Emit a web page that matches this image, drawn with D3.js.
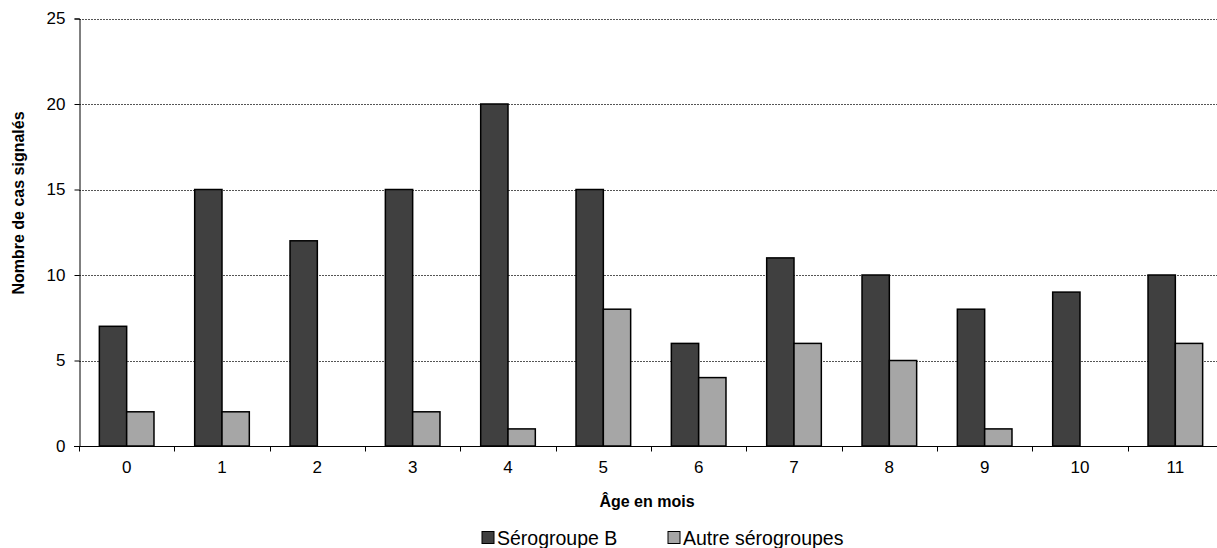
<!DOCTYPE html>
<html lang="fr">
<head>
<meta charset="utf-8"/>
<style>
  body { margin: 0; background: #fff; }
  svg { display: block; font-family: "Liberation Sans", Arial, sans-serif; }
</style>
</head>
<body>
<svg width="1217" height="548"></svg>
<script src="https://d3js.org/d3.v7.min.js"></script>
<script>

var ages = ["0", "1", "2", "3", "4", "5", "6", "7", "8", "9", "10", "11"];
var serogroupeB = [7, 15, 12, 15, 20, 15, 6, 11, 10, 8, 9, 10];
var autres = [2, 2, 0, 2, 1, 8, 4, 6, 5, 1, 0, 6];
var yTicks = [0, 5, 10, 15, 20, 25];
var series = ["Sérogroupe B", "Autre sérogroupes"];
var couleurs = ["#404040", "#a6a6a6"];

var svg = d3.select("svg"),
    gauche = 79, droite = 1223, haut = 18.5, bas = 446;

var x = d3.scaleBand().domain(ages).range([gauche, droite]);
var y = d3.scaleLinear().domain([0, 25]).range([bas, haut]);
var xs = d3.scaleBand().domain(series).range([0, x.bandwidth()]).paddingOuter(0.745).paddingInner(0);

// grille
svg.append("g")
  .selectAll("line")
  .data(yTicks.filter(function(d) { return d > 0; }))
  .enter().append("line")
    .attr("x1", gauche).attr("x2", droite)
    .attr("y1", function(d) { return Math.round(y(d)) + 0.5; })
    .attr("y2", function(d) { return Math.round(y(d)) + 0.5; })
    .attr("stroke", "#555")
    .attr("stroke-width", 1)
    .attr("stroke-dasharray", "2,1");

// barres
var rows = ages.map(function(a, i) { return {age: a, vals: [serogroupeB[i], autres[i]]}; });
var groupes = svg.append("g").selectAll("g")
  .data(rows)
  .enter().append("g")
    .attr("transform", function(d) { return "translate(" + x(d.age) + ",0)"; });

groupes.selectAll("rect")
  .data(function(d) {
    return d.vals.map(function(v, j) { return {s: series[j], v: v, j: j}; })
      .filter(function(e) { return e.v > 0; });
  })
  .enter().append("rect")
    .attr("x", function(d) { return xs(d.s); })
    .attr("width", xs.bandwidth())
    .attr("y", function(d) { return y(d.v); })
    .attr("height", function(d) { return y(0) - y(d.v); })
    .attr("fill", function(d) { return couleurs[d.j]; })
    .attr("stroke", "#000")
    .attr("stroke-width", 1.5);

// axe y
var yAxis = svg.append("g")
  .attr("transform", "translate(" + (gauche + 0.5) + ",0)")
  .call(d3.axisLeft(y).tickValues(yTicks).tickSize(5).tickPadding(9));
yAxis.select(".domain").attr("stroke", "#000");
yAxis.selectAll("text").attr("font-size", 17).attr("fill", "#000").attr("font-family", "Liberation Sans, Arial, sans-serif");

// axe x
var xAxisG = svg.append("g").attr("transform", "translate(0," + (bas + 0.5) + ")");
xAxisG.append("line").attr("x1", gauche - 5).attr("x2", droite).attr("stroke", "#000");
xAxisG.selectAll("line.tk")
  .data(ages)
  .enter().append("line")
    .attr("class", "tk")
    .attr("x1", function(d) { return Math.round(x(d)) + 0.5; })
    .attr("x2", function(d) { return Math.round(x(d)) + 0.5; })
    .attr("y1", 0).attr("y2", 5)
    .attr("stroke", "#000");
xAxisG.selectAll("text")
  .data(ages)
  .enter().append("text")
    .attr("x", function(d) { return x(d) + x.bandwidth() / 2; })
    .attr("y", 26)
    .attr("text-anchor", "middle")
    .attr("font-size", 17)
    .text(function(d) { return d; });

// titres
svg.append("text")
  .attr("x", 647).attr("y", 507)
  .attr("text-anchor", "middle")
  .attr("font-size", 16).attr("font-weight", "bold")
  .text("Âge en mois");

svg.append("text")
  .attr("transform", "translate(24,203) rotate(-90)")
  .attr("text-anchor", "middle")
  .attr("font-size", 16).attr("font-weight", "bold")
  .text("Nombre de cas signalés");

// légende
var legendX = [482, 668];
var leg = svg.append("g").selectAll("g")
  .data(series)
  .enter().append("g")
    .attr("transform", function(d, i) { return "translate(" + legendX[i] + ",531.5)"; });
leg.append("rect")
  .attr("width", 12).attr("height", 12)
  .attr("fill", function(d, i) { return couleurs[i]; })
  .attr("stroke", "#000").attr("stroke-width", 1);
leg.append("text")
  .attr("x", 15).attr("y", 13)
  .attr("font-size", 19.5)
  .text(function(d) { return d; });

</script>
</body>
</html>
